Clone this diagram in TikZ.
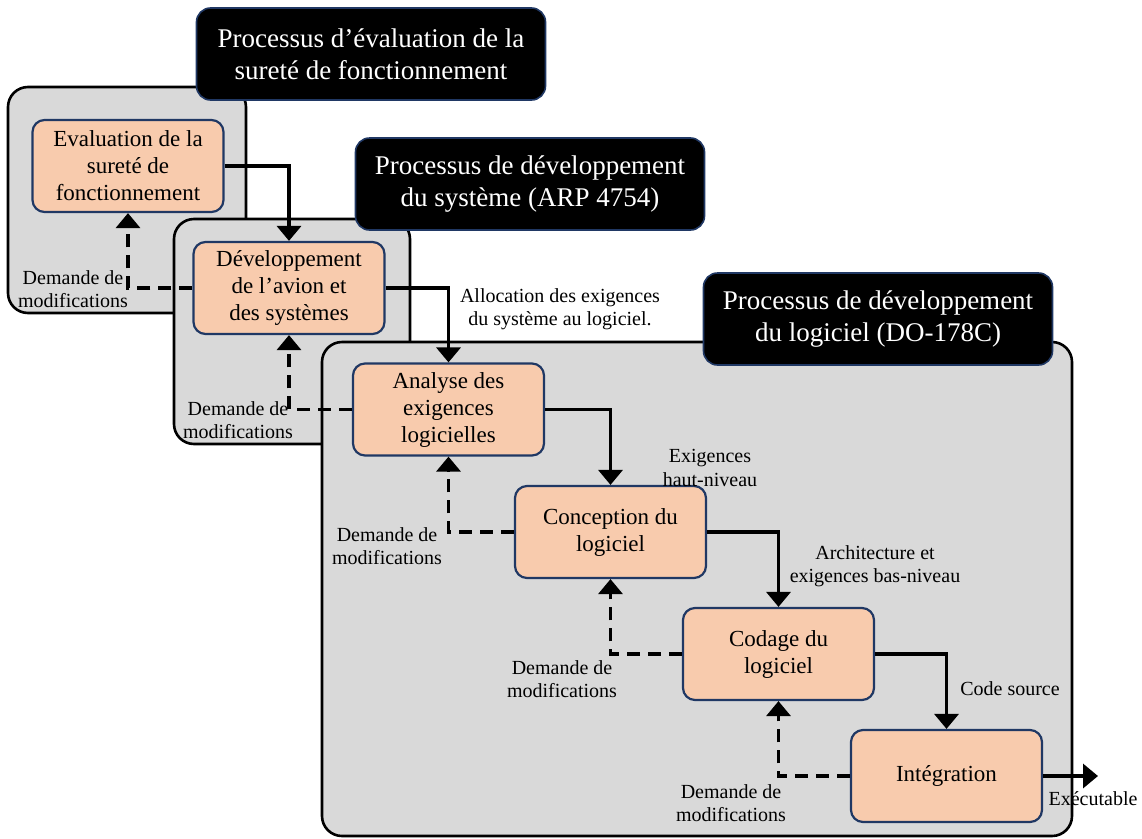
\documentclass[tikz,border=0pt]{standalone}
\usepackage{fontspec}
\setmainfont{Liberation Serif}
\usetikzlibrary{arrows.meta}
\newlength{\du}
\setlength{\du}{1pt}
\definecolor{panelgray}{rgb}{0.851, 0.851, 0.851}
\definecolor{taskfill}{rgb}{0.973, 0.796, 0.678}
\definecolor{taskline}{rgb}{0.125, 0.220, 0.392}
\tikzset{
  panel/.style={draw=black, fill=panelgray, line width=2.6\du, rounded corners=20\du},
  title/.style={draw=taskline, fill=black, text=white, line width=1.6\du, rounded corners=14\du,
    minimum width=349\du, minimum height=92\du, inner sep=0pt, align=center,
    font=\fontsize{27}{32}\selectfont},
  task/.style={draw=taskline, fill=taskfill, line width=2.2\du, rounded corners=12\du,
    minimum width=191\du, minimum height=92\du, inner sep=0pt, align=center,
    font=\fontsize{23}{27}\selectfont},
  note/.style={inner sep=0pt, align=center, font=\fontsize{20}{23.5}\selectfont},
  flow/.style={line width=3.5\du, -{Triangle[width=24pt,length=15pt]}},
  back/.style={flow, dash pattern=on 13\du off 8\du},
}

\begin{document}
\begin{tikzpicture}
\pgftransformxscale{1.000000}
\pgftransformyscale{-1.000000}
\useasboundingbox (0\du,0\du) rectangle (1142\du,838\du);
% processus de surete de fonctionnement
\draw[panel] (8\du,87\du) rectangle (246\du,313\du);
\node[title] (ttlsafety) at (371\du,54\du){Processus d’évaluation de la\\sureté de fonctionnement};
% processus systeme
\draw[panel] (174\du,219\du) rectangle (410\du,444\du);
\node[title] (ttlsystem) at (530\du,184\du){Processus de développement\\du système (ARP 4754)};
% processus logiciel
\draw[panel] (322\du,342\du) rectangle (1072\du,836\du);
\node[title] (ttlsoft) at (878\du,319\du){Processus de développement\\du logiciel (DO-178C)};
% activites
\node[task] (eval) at (128\du,166\du){Evaluation de la\\sureté de\\fonctionnement};
\node[task] (dev) at (289\du,288\du){Développement\\de l’avion et\\des systèmes};
\node[task] (analyse) at (448.5\du,409.5\du){Analyse des\\exigences\\logicielles};
\node[task] (concept) at (610.5\du,532\du){Conception du\\logiciel};
\node[task] (codage) at (778.5\du,654\du){Codage du\\logiciel};
\node[task] (integ) at (946.5\du,776\du){Intégration};
\coordinate (exe) at (1098\du,776\du);
% flux descendant
\draw[flow] (eval.east) -| (dev.north);
\draw[flow] (dev.east) -| (analyse.north);
\draw[flow] (analyse.east) -| (concept.north);
\draw[flow] (concept.east) -| (codage.north);
\draw[flow] (codage.east) -| (integ.north);
\draw[flow] (integ.east) -- (exe);
% demandes de modifications
\draw[back] (dev.west) -| (eval.south);
\draw[back] (analyse.west) -| (dev.south);
\draw[back] (concept.west) -| (analyse.south);
\draw[back] (codage.west) -| (concept.south);
\draw[back] (integ.west) -| (codage.south);
% setfont left to latex
\node[note] (dm1) at (73\du,289\du){Demande de\\modifications};
\node[note] (dm2) at (238\du,420\du){Demande de\\modifications};
\node[note] (dm3) at (387\du,546\du){Demande de\\modifications};
\node[note] (dm4) at (562\du,679\du){Demande de\\modifications};
\node[note] (dm5) at (731\du,803\du){Demande de\\modifications};
\node[note] (alloc) at (560\du,309\du){Allocation des exigences\\du système au logiciel.};
\node[note] (hln) at (710\du,468\du){Exigences\\haut-niveau};
\node[note] (lln) at (875\du,566\du){Architecture et\\exigences bas-niveau};
\node[note] (src) at (1010\du,689\du){Code source};
\node[note] (exetxt) at (1093\du,799\du){Exécutable};
\end{tikzpicture}
\end{document}
